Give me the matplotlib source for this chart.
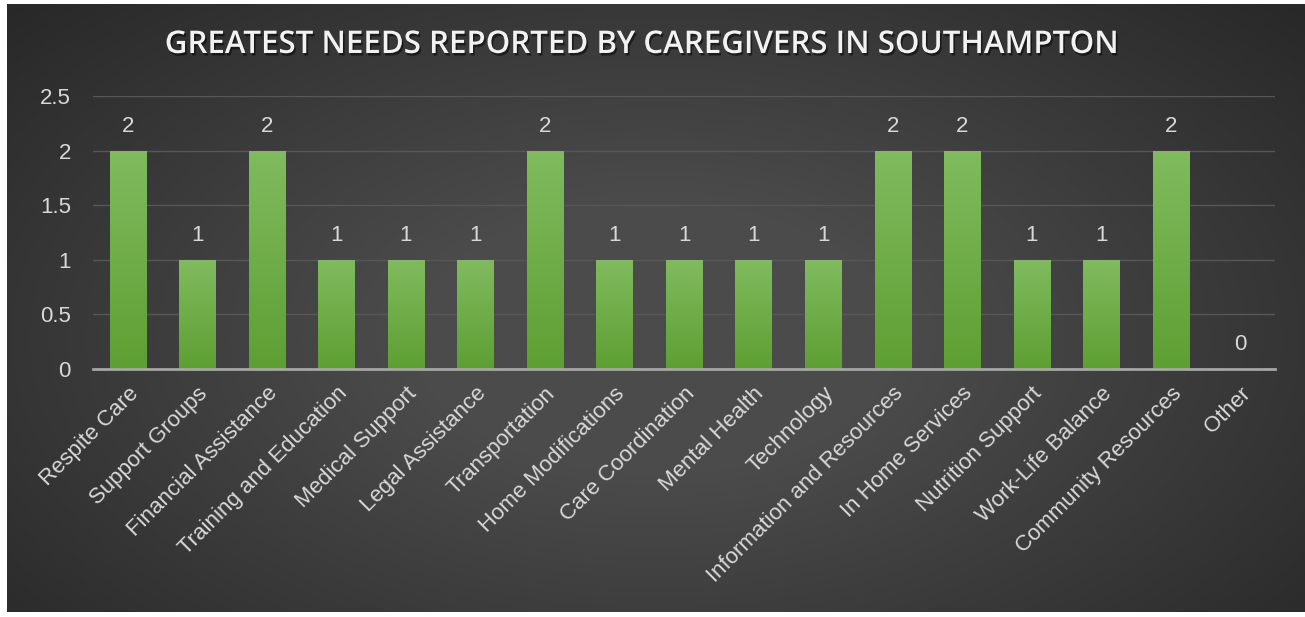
import numpy as np
import matplotlib.pyplot as plt
import matplotlib.patheffects as pe
from matplotlib.colors import LinearSegmentedColormap

categories = ['Respite Care', 'Support Groups', 'Financial Assistance', 'Training and Education',
              'Medical Support', 'Legal Assistance', 'Transportation', 'Home Modifications',
              'Care Coordination', 'Mental Health', 'Technology', 'Information and Resources',
              'In Home Services', 'Nutrition Support', 'Work-Life Balance', 'Community Resources',
              'Other']
counts = [2, 1, 2, 1, 1, 1, 2, 1, 1, 1, 1, 2, 2, 1, 1, 2, 0]
yticks = [0, 0.5, 1, 1.5, 2, 2.5]
ytick_labels = ['0', '0.5', '1', '1.5', '2', '2.5']
title = 'GREATEST NEEDS REPORTED BY CAREGIVERS IN SOUTHAMPTON'

W, H = 1305, 617
fig = plt.figure(figsize=(W / 100, H / 100), dpi=100)
fig.patch.set_facecolor('white')

# dark radial-gradient background
bg = fig.add_axes([7 / W, 5 / H, 1298 / W, 608 / H])
yy, xx = np.mgrid[0:1:300j, 0:1:600j]
r = np.sqrt(((xx - 0.5) / 0.75) ** 2 + ((yy - 0.55) / 0.9) ** 2)
shade = np.clip(1 - r, 0, 1)
bg_cmap = LinearSegmentedColormap.from_list('bg', ['#232323', '#4b4b4b'])
bg.imshow(shade, cmap=bg_cmap, aspect='auto', extent=[0, 1, 0, 1], vmin=0, vmax=0.75)
bg.set_axis_off()

ax = fig.add_axes([93 / W, (H - 369) / H, (1275 - 93) / W, (369 - 96) / H])
ax.set_facecolor('none')
x = np.arange(len(categories))
bars = ax.bar(x, counts, width=0.52, color='#6aae45', zorder=3)

# vertical green gradient in each bar
green = LinearSegmentedColormap.from_list('g', ['#5e9f33', '#80bb5e'])
grad = np.linspace(0, 1, 100).reshape(-1, 1)
for b in bars:
    if b.get_height() <= 0:
        continue
    im = ax.imshow(grad, cmap=green, origin='lower', aspect='auto', zorder=4,
                   extent=[b.get_x(), b.get_x() + b.get_width(), 0, b.get_height()])
    im.set_clip_path(b)

lab_font = dict(color='#d9d9d9', fontsize=16, family='Liberation Sans')
for xi, v in zip(x, counts):
    ax.annotate(str(v), (xi, v), xytext=(0, 10), textcoords='offset points',
                ha='center', va='bottom', **lab_font)

ax.set_xlim(-0.5, len(categories) - 0.5)
ax.set_ylim(0, 2.5)
ax.set_yticks(yticks)
ax.set_yticklabels(ytick_labels, **lab_font)
ax.set_xticks(x)
ax.set_xticklabels(categories, rotation=45, ha='right', rotation_mode='anchor', **lab_font)
ax.tick_params(axis='both', length=0)
ax.tick_params(axis='y', pad=16)
ax.tick_params(axis='x', pad=10)
ax.grid(axis='y', color='#575757', linewidth=1, zorder=0)
for s in ['top', 'right', 'left']:
    ax.spines[s].set_visible(False)
ax.spines['bottom'].set_color('#a6a6a6')
ax.spines['bottom'].set_linewidth(2)
ax.spines['bottom'].set_zorder(5)

shadow = [pe.SimplePatchShadow(offset=(1.2, -1.8), shadow_rgbFace='black', alpha=0.5),
          pe.Normal()]
fig.text(643 / W, (H - 45) / H, title, ha='center', va='center', color='#f2f2f2',
         fontsize=22.5, fontweight='semibold', family='Open Sans', path_effects=shadow)

fig.savefig('out.png', dpi=100)
